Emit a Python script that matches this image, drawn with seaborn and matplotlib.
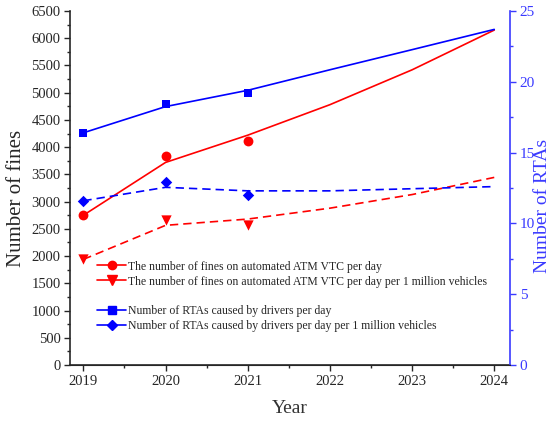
import numpy as np
import pandas as pd
import matplotlib
matplotlib.use('Agg')
import matplotlib.pyplot as plt
from matplotlib.lines import Line2D
from matplotlib.ticker import MultipleLocator
import seaborn as sns

sns.set_style('ticks')
plt.rcParams['font.family'] = ['Liberation Serif', 'DejaVu Serif']

# observed points
years_obs = [2019, 2020, 2021]
fines_day = [2750, 3830, 4120]
fines_per_mln = [1940, 2660, 2570]
rta_day = [16.4, 18.4, 19.2]
rta_per_mln = [11.6, 12.9, 12.0]

# fitted / forecast curves
years_fit = [2019, 2020, 2021, 2022, 2023, 2024]
fines_day_fit = [2750, 3720, 4220, 4780, 5420, 6150]
fines_per_mln_fit = [1940, 2565, 2680, 2880, 3130, 3445]
rta_day_fit = [16.4, 18.25, 19.4, 20.85, 22.27, 23.7]
rta_per_mln_fit = [11.6, 12.55, 12.3, 12.3, 12.45, 12.6]

red = '#ff0000'
blue = '#0000ff'
spine_blue = '#3a3aff'

fig, ax = plt.subplots(figsize=(5.53, 4.23), dpi=100)
fig.subplots_adjust(left=0.127, right=0.922, top=0.974, bottom=0.137)
ax2 = ax.twinx()

obs = pd.DataFrame({'year': years_obs, 'fd': fines_day, 'fm': fines_per_mln,
                    'rd': rta_day, 'rm': rta_per_mln})
fit = pd.DataFrame({'year': years_fit, 'fd': fines_day_fit, 'fm': fines_per_mln_fit,
                    'rd': rta_day_fit, 'rm': rta_per_mln_fit})

lw = 1.2
sns.lineplot(data=fit, x='year', y='fd', ax=ax, color=red, lw=lw)
sns.lineplot(data=fit, x='year', y='fm', ax=ax, color=red, lw=lw)
ax.lines[-1].set_dashes([5, 3])
sns.scatterplot(data=obs, x='year', y='fd', ax=ax, color=red, marker='o', s=50, linewidth=0, zorder=5)
sns.scatterplot(data=obs, x='year', y='fm', ax=ax, color=red, marker='v', s=55, linewidth=0, zorder=5)

sns.lineplot(data=fit, x='year', y='rd', ax=ax2, color=blue, lw=lw)
sns.lineplot(data=fit, x='year', y='rm', ax=ax2, color=blue, lw=lw)
ax2.lines[-1].set_dashes([5, 3])
sns.scatterplot(data=obs, x='year', y='rd', ax=ax2, color=blue, marker='s', s=34, linewidth=0, zorder=5)
sns.scatterplot(data=obs, x='year', y='rm', ax=ax2, color=blue, marker='D', s=34, linewidth=0, zorder=5)

ax.set_xlim(2018.84, 2024.19)
ax.set_ylim(0, 6500)
ax2.set_ylim(0, 25)
ax.set_xticks(years_fit)
ax.xaxis.set_minor_locator(MultipleLocator(0.5))
ax.yaxis.set_major_locator(MultipleLocator(500))
ax.yaxis.set_minor_locator(MultipleLocator(250))
ax2.yaxis.set_major_locator(MultipleLocator(5))
ax2.yaxis.set_minor_locator(MultipleLocator(2.5))

ax.tick_params(axis='both', which='major', labelsize=10.5, length=4, width=1, direction='out', pad=3)
ax.tick_params(axis='both', which='minor', length=2.5, width=1, direction='out')
ax2.tick_params(axis='y', which='major', labelsize=11, length=4, width=1, colors=spine_blue, pad=3)
ax2.tick_params(axis='y', which='minor', length=2.5, width=1, colors=spine_blue)

ax.spines['top'].set_visible(False)
ax2.spines['top'].set_visible(False)
ax2.spines['right'].set_color(spine_blue)
ax2.spines['right'].set_linewidth(1.2)
ax.spines['left'].set_linewidth(1.2)
ax.spines['bottom'].set_linewidth(1.2)
ax2.spines['left'].set_visible(False)
ax.spines['right'].set_visible(False)

ax.set_xlabel('Year', fontsize=14, color='#333333')
ax.xaxis.set_label_coords(0.5, -0.1)
ax.set_ylabel('Number of fines', fontsize=15)
ax.yaxis.set_label_coords(-0.1, 0.47)
ax2.set_ylabel('Number of RTAs', fontsize=14, color=spine_blue)
ax2.yaxis.set_label_coords(1.055, 0.45)

handles = [
    Line2D([], [], color=red, marker='o', markersize=6, lw=lw),
    Line2D([], [], color=red, marker='v', markersize=7, lw=lw),
    Line2D([], [], color='none'),
    Line2D([], [], color=blue, marker='s', markersize=5.5, lw=lw),
    Line2D([], [], color=blue, marker='D', markersize=5, lw=lw),
]
labels = [
    'The number of fines on automated ATM VTC per day',
    'The number of fines on automated ATM VTC per day per 1 million vehicles',
    '',
    'Number of RTAs caused by drivers per day',
    'Number of RTAs caused by drivers per day per 1 million vehicles',
]
ax.legend(handles, labels, loc='upper left', bbox_to_anchor=(0.062, 0.295),
          frameon=False, fontsize=8.5, handlelength=2.4, handletextpad=0.15,
          labelspacing=0.25, borderaxespad=0, borderpad=0)

fig.savefig('out.png', dpi=100)
